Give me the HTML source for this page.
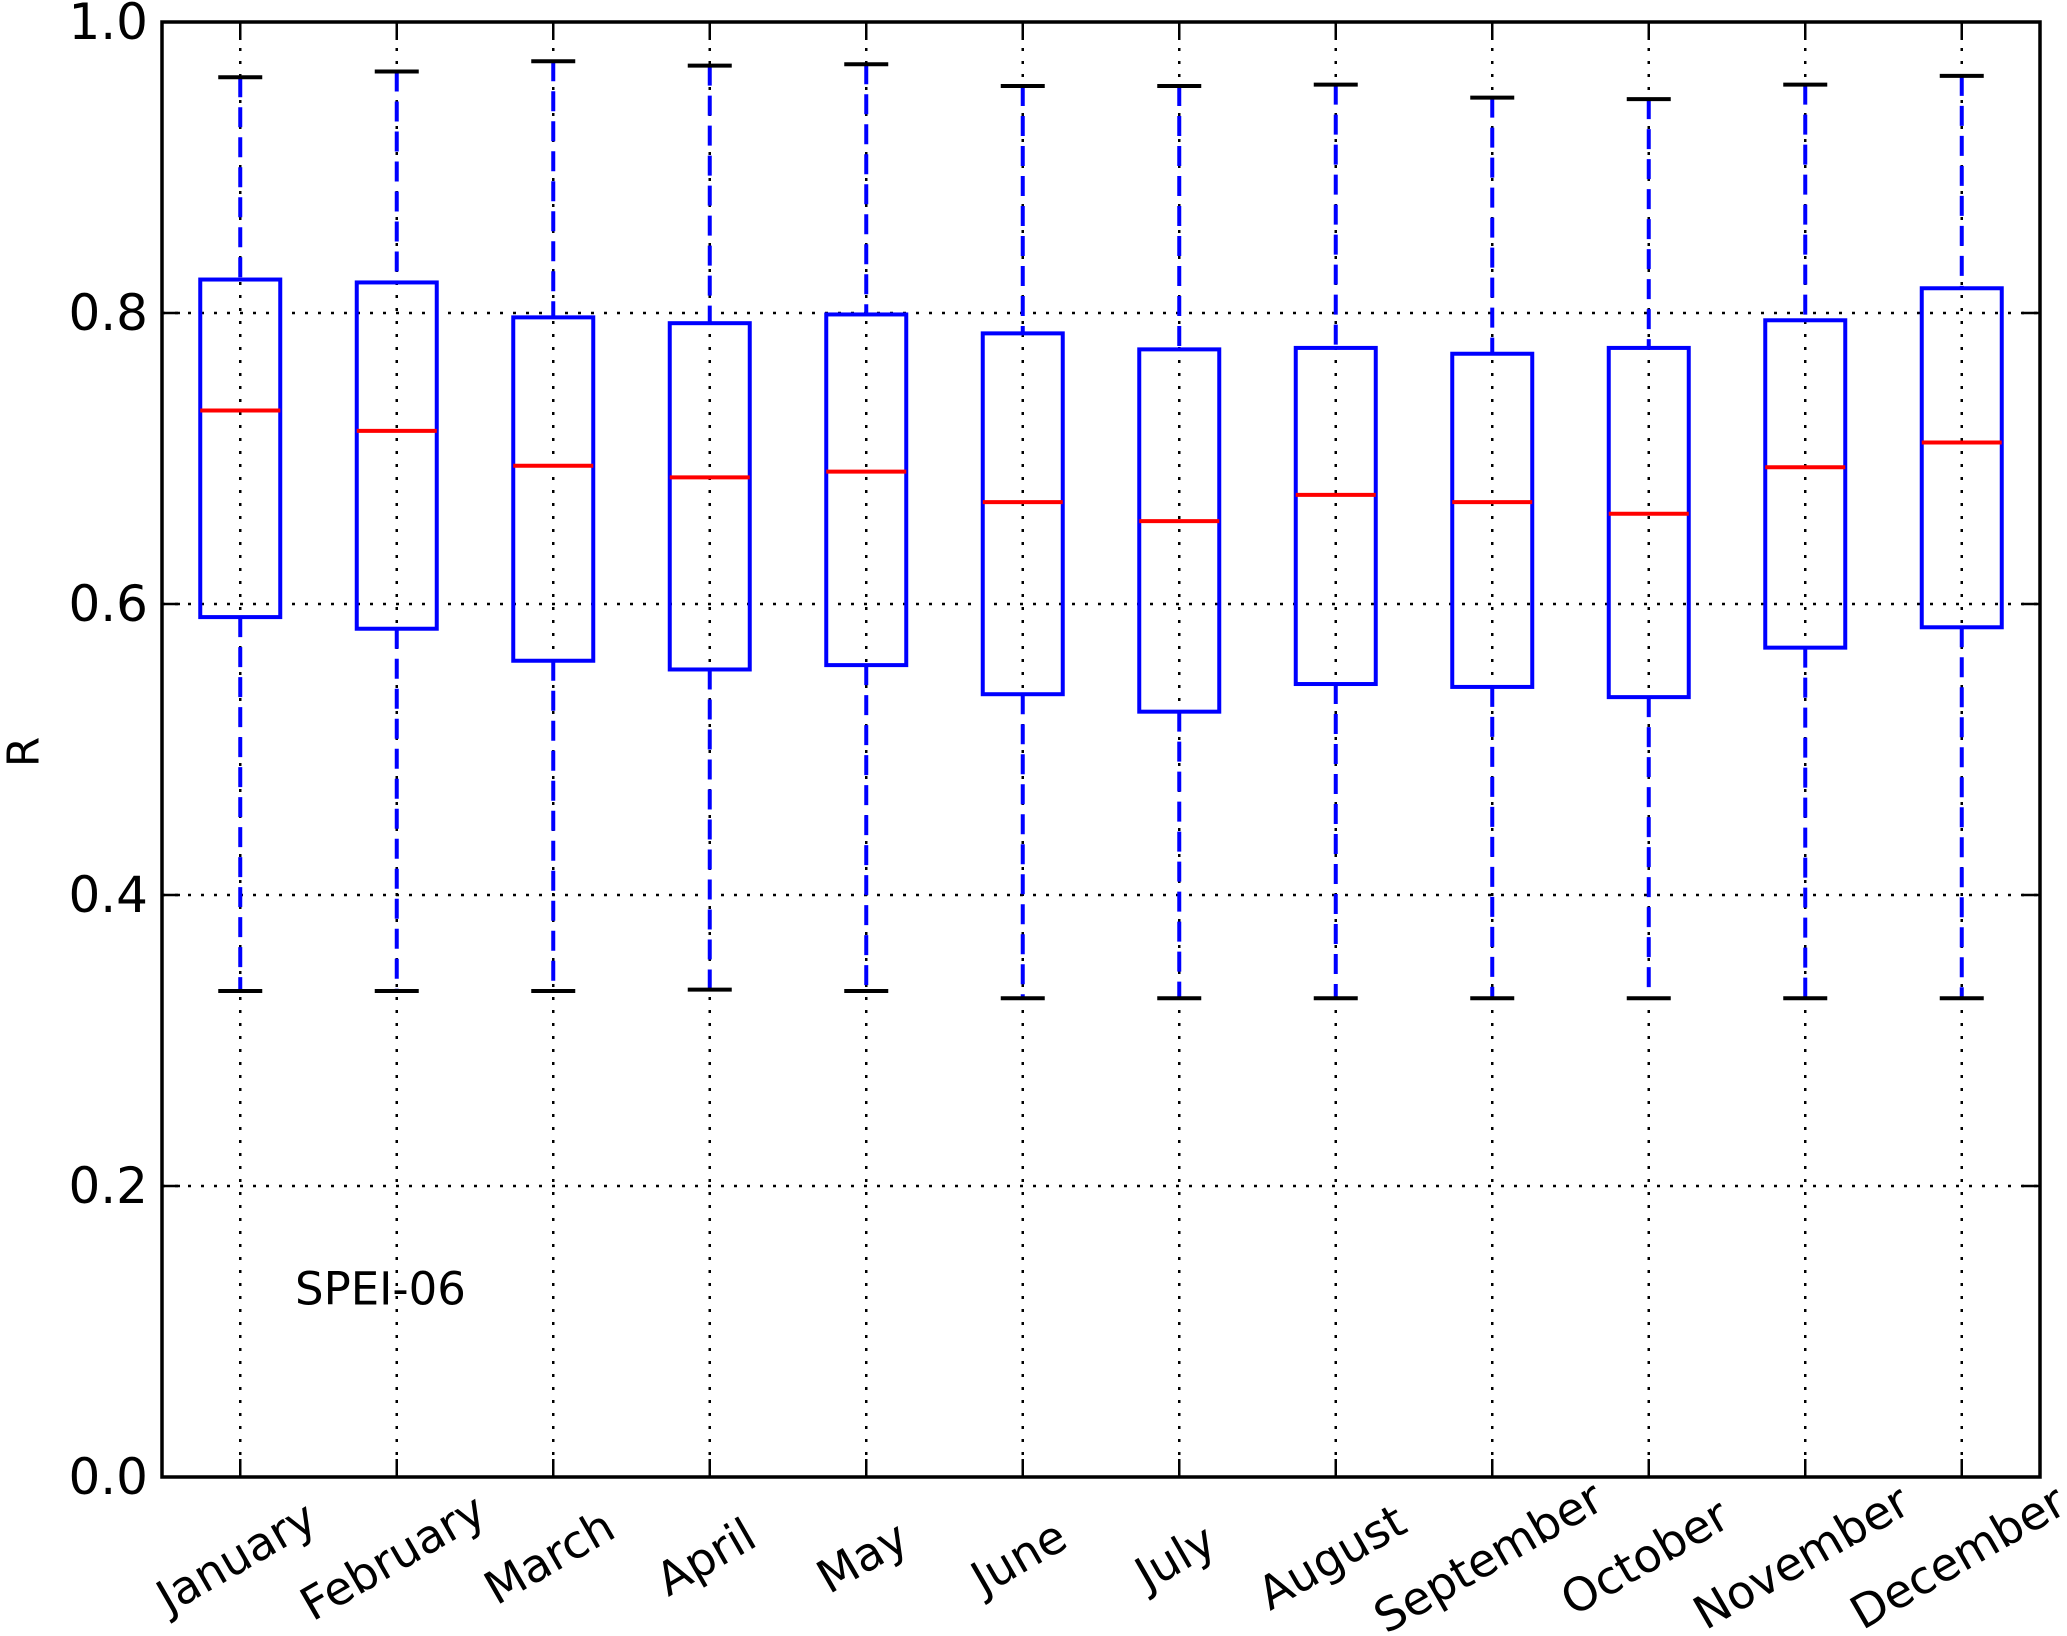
<!DOCTYPE html>
<html><head><meta charset="utf-8"><style>body{margin:0;background:#fff}svg{display:block}</style></head>
<body>
<svg id="chart" width="2067" height="1636" xmlns="http://www.w3.org/2000/svg" font-family="'DejaVu Sans','Liberation Sans',sans-serif"></svg>
<script>
const months=["January","February","March","April","May","June","July","August","September","October","November","December"];
const whiskerHigh=[0.962,0.966,0.973,0.970,0.971,0.956,0.956,0.957,0.948,0.947,0.957,0.963];
const q3=[0.823,0.821,0.797,0.793,0.799,0.786,0.775,0.776,0.772,0.776,0.795,0.817];
const medians=[0.733,0.719,0.695,0.687,0.691,0.670,0.657,0.675,0.670,0.662,0.694,0.711];
const q1=[0.591,0.583,0.561,0.555,0.558,0.538,0.526,0.545,0.543,0.536,0.570,0.584];
const whiskerLow=[0.334,0.334,0.334,0.335,0.334,0.329,0.329,0.329,0.329,0.329,0.329,0.329];
const yTicks=[0,0.2,0.4,0.6,0.8,1.0];
const yTickLabels=["0.0","0.2","0.4","0.6","0.8","1.0"];

const L=162,R=2040,T=22,B=1477;
const xs=i=>L+(i+0.5)*(R-L)/12;
const ys=v=>B-v*(B-T);
const svg=document.getElementById('chart');
const NS="http://www.w3.org/2000/svg";
function mk(tag,attrs,parent){const e=document.createElementNS(NS,tag);for(const k in attrs)e.setAttribute(k,attrs[k]);(parent||svg).appendChild(e);return e;}

yTicks.forEach((v,i)=>{
  const g=mk('line',{x1:L,x2:R,y1:ys(v),y2:ys(v),stroke:'#000','stroke-width':2.5,'stroke-dasharray':'3,10'});
  
  
  const t=mk('line',{x1:L,x2:L+18,y1:ys(v),y2:ys(v),stroke:'#000','stroke-width':2.5});
  
  
  const t2=mk('line',{x1:R-18,x2:R,y1:ys(v),y2:ys(v),stroke:'#000','stroke-width':2.5});
  
  
  const lb=mk('text',{x:L-14,y:ys(v),'text-anchor':'end','dominant-baseline':'central','font-size':50});
  lb.textContent=yTickLabels[i];
  
  
});
months.forEach((m,i)=>{
  const x=xs(i);
  const g=mk('line',{x1:x,x2:x,y1:T,y2:B,stroke:'#000','stroke-width':2.5,'stroke-dasharray':'3,10'});
  
  
  const t=mk('line',{x1:x,x2:x,y1:B-18,y2:B,stroke:'#000','stroke-width':2.5});
  
  
  const t2=mk('line',{x1:x,x2:x,y1:T,y2:T+18,stroke:'#000','stroke-width':2.5});
  
  
  const lb=mk('text',{x:x-4,y:1557,'text-anchor':'middle','dominant-baseline':'central','font-size':46,transform:`rotate(-30 ${x-4} 1557)`});
  lb.textContent=m;
  
  
});
const hw=40,cw=22;
months.forEach((m,i)=>{
  const x=xs(i);
  const g=mk('g',{});
  
  
  mk('line',{x1:x,x2:x,y1:ys(whiskerHigh[i]),y2:ys(q3[i]),stroke:'#0000ff','stroke-width':4,'stroke-dasharray':'20,10'},g);
  mk('line',{x1:x,x2:x,y1:ys(q1[i]),y2:ys(whiskerLow[i]),stroke:'#0000ff','stroke-width':4,'stroke-dasharray':'20,10'},g);
  mk('line',{x1:x-cw,x2:x+cw,y1:ys(whiskerHigh[i]),y2:ys(whiskerHigh[i]),stroke:'#000','stroke-width':4},g);
  mk('line',{x1:x-cw,x2:x+cw,y1:ys(whiskerLow[i]),y2:ys(whiskerLow[i]),stroke:'#000','stroke-width':4},g);
  mk('rect',{x:x-hw,y:ys(q3[i]),width:2*hw,height:ys(q1[i])-ys(q3[i]),fill:'none',stroke:'#0000ff','stroke-width':4},g);
  mk('line',{x1:x-hw,x2:x+hw,y1:ys(medians[i]),y2:ys(medians[i]),stroke:'#ff0000','stroke-width':4},g);
});
const fr=mk('rect',{x:L,y:T,width:R-L,height:B-T,fill:'none',stroke:'#000','stroke-width':3.5});


const yl=mk('text',{x:24,y:752,'text-anchor':'middle','dominant-baseline':'central','font-size':44,transform:'rotate(-90 24 752)'});
yl.textContent='R';


const an=mk('text',{x:295,y:1289,'dominant-baseline':'central','font-size':45});
an.textContent='SPEI-06';


</script>
</body></html>
